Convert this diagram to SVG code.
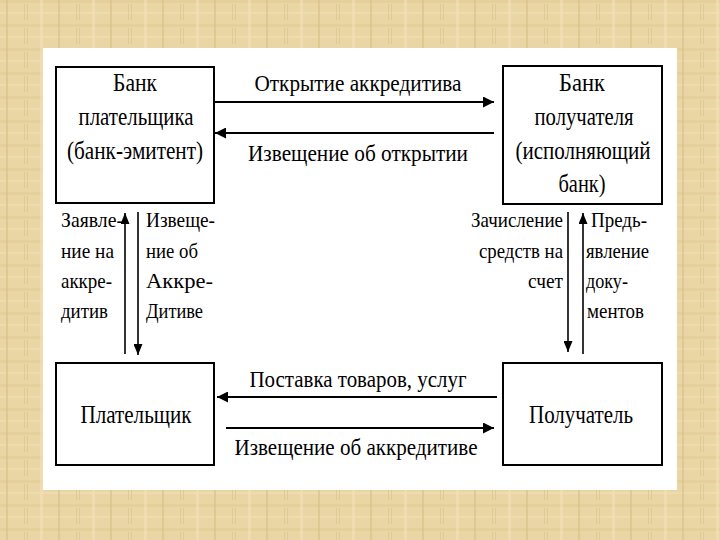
<svg xmlns="http://www.w3.org/2000/svg" width="720" height="540" viewBox="0 0 720 540">
  <defs>
    <pattern id="bg" width="52" height="24" patternUnits="userSpaceOnUse">
      <rect width="52" height="24" fill="#EAD6A4"/>
      <rect x="0" y="0" width="52" height="3" fill="#E3CB92" opacity="0.6"/>
      <rect x="0" y="12" width="52" height="2" fill="#F0DEB2" opacity="0.7"/>
      <rect x="6" y="0" width="2" height="24" fill="#D8BE86" opacity="0.6"/>
      <rect x="24" y="4" width="1" height="16" fill="#D6BC84" opacity="0.5"/>
      <rect x="27" y="4" width="1" height="16" fill="#D6BC84" opacity="0.5"/>
      <rect x="40" y="0" width="3" height="24" fill="#F1E0B8" opacity="0.6"/>
    </pattern>
    <marker id="ah" markerUnits="userSpaceOnUse" markerWidth="11" markerHeight="11" refX="11" refY="5.5" orient="auto">
      <path d="M0,0 L11,5.5 L0,11 z" fill="#000"/>
    </marker>
    <marker id="ahs" markerUnits="userSpaceOnUse" markerWidth="11" markerHeight="9" refX="11" refY="4.5" orient="auto">
      <path d="M0,0 L11,4.5 L0,9 z" fill="#000"/>
    </marker>
    <style>
      .box { fill: #fff; stroke: #000; stroke-width: 2; }
      text { font-family: "Liberation Serif", "DejaVu Serif", "Times New Roman", serif; fill: #000; }
      .bl { font-size: 26px; text-anchor: middle; }
      .al { font-size: 24px; text-anchor: middle; }
      .sl { font-size: 21px; }
      .arr { stroke: #000; stroke-width: 2; fill: none; marker-end: url(#ah); }
      .varr { stroke: #000; stroke-width: 1.6; fill: none; marker-end: url(#ahs); }
    </style>
  </defs>

  <rect x="0" y="0" width="720" height="540" fill="url(#bg)"/>
  <rect x="43" y="48" width="634" height="442" fill="#fff"/>

  <g id="bank-payer" font-family="Liberation Serif, serif">
    <rect class="box" x="56" y="67" width="158" height="136"/>
    <text class="bl" x="135" y="91" textLength="44" lengthAdjust="spacingAndGlyphs">Банк</text>
    <text class="bl" x="136" y="125" textLength="115" lengthAdjust="spacingAndGlyphs">плательщика</text>
    <text class="bl" x="135" y="159" textLength="136" lengthAdjust="spacingAndGlyphs">(банк-эмитент)</text>
  </g>

  <g id="bank-recipient" font-family="Liberation Serif, serif">
    <rect class="box" x="503" y="66" width="159" height="138"/>
    <text class="bl" x="582" y="91" textLength="46" lengthAdjust="spacingAndGlyphs">Банк</text>
    <text class="bl" x="584" y="125" textLength="99" lengthAdjust="spacingAndGlyphs">получателя</text>
    <text class="bl" x="583" y="159" textLength="135" lengthAdjust="spacingAndGlyphs">(исполняющий</text>
    <text class="bl" x="582" y="192" textLength="47" lengthAdjust="spacingAndGlyphs">банк)</text>
  </g>

  <g id="payer" font-family="Liberation Serif, serif">
    <rect class="box" x="56" y="363" width="158" height="102"/>
    <text class="bl" x="136" y="423" textLength="111" lengthAdjust="spacingAndGlyphs">Плательщик</text>
  </g>

  <g id="recipient" font-family="Liberation Serif, serif">
    <rect class="box" x="503" y="363" width="159" height="102"/>
    <text class="bl" x="581" y="423" textLength="104" lengthAdjust="spacingAndGlyphs">Получатель</text>
  </g>

  <g id="connectors">
    <line class="arr" x1="215" y1="102" x2="494" y2="102"/>
    <line class="arr" x1="494" y1="133" x2="215" y2="133"/>
    <line class="arr" x1="497" y1="397" x2="217" y2="397"/>
    <line class="arr" x1="226" y1="428" x2="494" y2="428"/>
    <line class="varr" x1="125" y1="354" x2="125" y2="213"/>
    <line class="varr" x1="138" y1="212" x2="138" y2="355"/>
    <line class="varr" x1="568" y1="212" x2="568" y2="352"/>
    <line class="varr" x1="583" y1="354" x2="583" y2="213"/>
  </g>

  <g id="labels" font-family="Liberation Serif, serif">
    <text class="al" x="358" y="91" textLength="207" lengthAdjust="spacingAndGlyphs">Открытие аккредитива</text>
    <text class="al" x="358" y="161" textLength="220" lengthAdjust="spacingAndGlyphs">Извещение об открытии</text>
    <text class="al" x="358" y="387" textLength="217" lengthAdjust="spacingAndGlyphs">Поставка товаров, услуг</text>
    <text class="al" x="356" y="455" textLength="243" lengthAdjust="spacingAndGlyphs">Извещение об аккредитиве</text>

    <text class="sl" x="61" y="227" textLength="62" lengthAdjust="spacingAndGlyphs">Заявле-</text>
    <text class="sl" x="61" y="258" textLength="53" lengthAdjust="spacingAndGlyphs">ние на</text>
    <text class="sl" x="61" y="288" textLength="51" lengthAdjust="spacingAndGlyphs">аккре-</text>
    <text class="sl" x="61" y="318" textLength="47" lengthAdjust="spacingAndGlyphs">дитив</text>

    <text class="sl" x="146" y="227" textLength="69" lengthAdjust="spacingAndGlyphs">Извеще-</text>
    <text class="sl" x="146" y="258" textLength="52" lengthAdjust="spacingAndGlyphs">ние об</text>
    <text class="sl" x="146" y="288" textLength="67" lengthAdjust="spacingAndGlyphs">Аккре-</text>
    <text class="sl" x="146" y="318" textLength="57" lengthAdjust="spacingAndGlyphs">Дитиве</text>

    <text class="sl" x="471" y="227" textLength="92" lengthAdjust="spacingAndGlyphs">Зачисление</text>
    <text class="sl" x="479" y="258" textLength="84" lengthAdjust="spacingAndGlyphs">средств на</text>
    <text class="sl" x="528" y="288" textLength="35" lengthAdjust="spacingAndGlyphs">счет</text>

    <text class="sl" x="591" y="227" textLength="56" lengthAdjust="spacingAndGlyphs">Предь-</text>
    <text class="sl" x="586" y="258" textLength="63" lengthAdjust="spacingAndGlyphs">явление</text>
    <text class="sl" x="586" y="288" textLength="42" lengthAdjust="spacingAndGlyphs">доку-</text>
    <text class="sl" x="587" y="318" textLength="57" lengthAdjust="spacingAndGlyphs">ментов</text>
  </g>
</svg>
